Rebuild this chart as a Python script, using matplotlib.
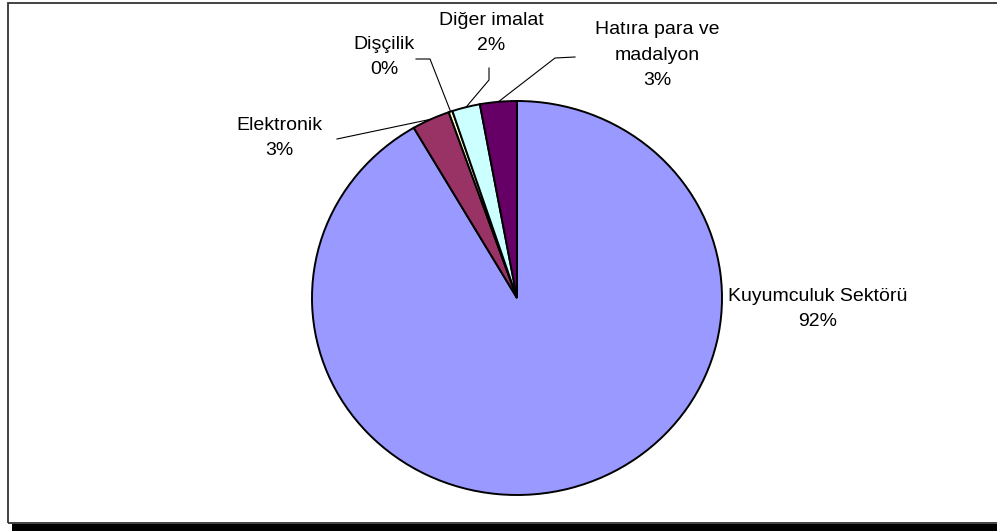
import numpy as np
import matplotlib
matplotlib.use("Agg")
import matplotlib.pyplot as plt
from matplotlib.patches import Rectangle

plt.rcParams['font.family'] = ['Liberation Sans', 'DejaVu Sans']

# Sector shares (%)
sectors = ["Kuyumculuk Sektörü", "Elektronik", "Dişçilik", "Diğer imalat",
           "Hatıra para ve\nmadalyon"]
shares = [91.6, 3.0, 0.3, 2.2, 2.9]
colors = ["#9999FF", "#993366", "#FFFFCC", "#CCFFFF", "#660066"]

W, H = 997, 531
fig = plt.figure(figsize=(W / 100, H / 100), dpi=100)

# Pie area (pixels): center and radii
cx, cy = 517, 298
rx, ry = 205, 197
ax = fig.add_axes([(cx - rx) / W, (H - cy - ry) / H, 2 * rx / W, 2 * ry / H])
wedges, _ = ax.pie(shares, colors=colors, startangle=90, counterclock=False,
                   radius=1.0,
                   wedgeprops=dict(edgecolor="black", linewidth=1.4))
ax.set_aspect('auto')
ax.set_xlim(-1, 1)
ax.set_ylim(-1, 1)
ax.axis('off')

def px(x, y):
    """Convert pixel coords (from top-left) to data coords of the pie axes."""
    return ((x - cx) / rx, (cy - y) / ry)

def mid(w):
    a = np.deg2rad((w.theta1 + w.theta2) / 2)
    return np.cos(a), np.sin(a)

labels = [f"{s}\n{v:.0f}%" for s, v in zip(sectors, shares)]

# label text centres (pixels) and leader line bend points
text_pos = [(818, 309), (279, 138), (384, 57), (491, 33), (657, 55)]
leaders = [
    None,
    [(337, 139)],
    [(430, 59), (416, 59)],
    [(489, 80), (489, 68)],
    [(555, 58), (575, 57)],
]

for w, lab, tp, ld in zip(wedges, labels, text_pos, leaders):
    tx, ty = px(*tp)
    ax.text(tx, ty, lab, ha='center', va='center', fontsize=14,
            linespacing=1.65, clip_on=False)
    if ld:
        mx, my = mid(w)
        pts = [(mx * 1.0, my * 1.0)] + [px(*p) for p in ld]
        xs, ys = zip(*pts)
        ax.plot(xs, ys, color='black', lw=0.8, clip_on=False)

# Chart border with drop shadow
fig.patches.append(Rectangle((8 / W, (H - 523) / H), (W + 10) / W, (523 - 3) / H,
                             transform=fig.transFigure, fill=False,
                             edgecolor='#333333', lw=1.3))
fig.patches.append(Rectangle((12 / W, 0), (W - 12) / W, (H - 524) / H,
                             transform=fig.transFigure, facecolor='black',
                             edgecolor='none'))

fig.savefig("out.png", dpi=100)
